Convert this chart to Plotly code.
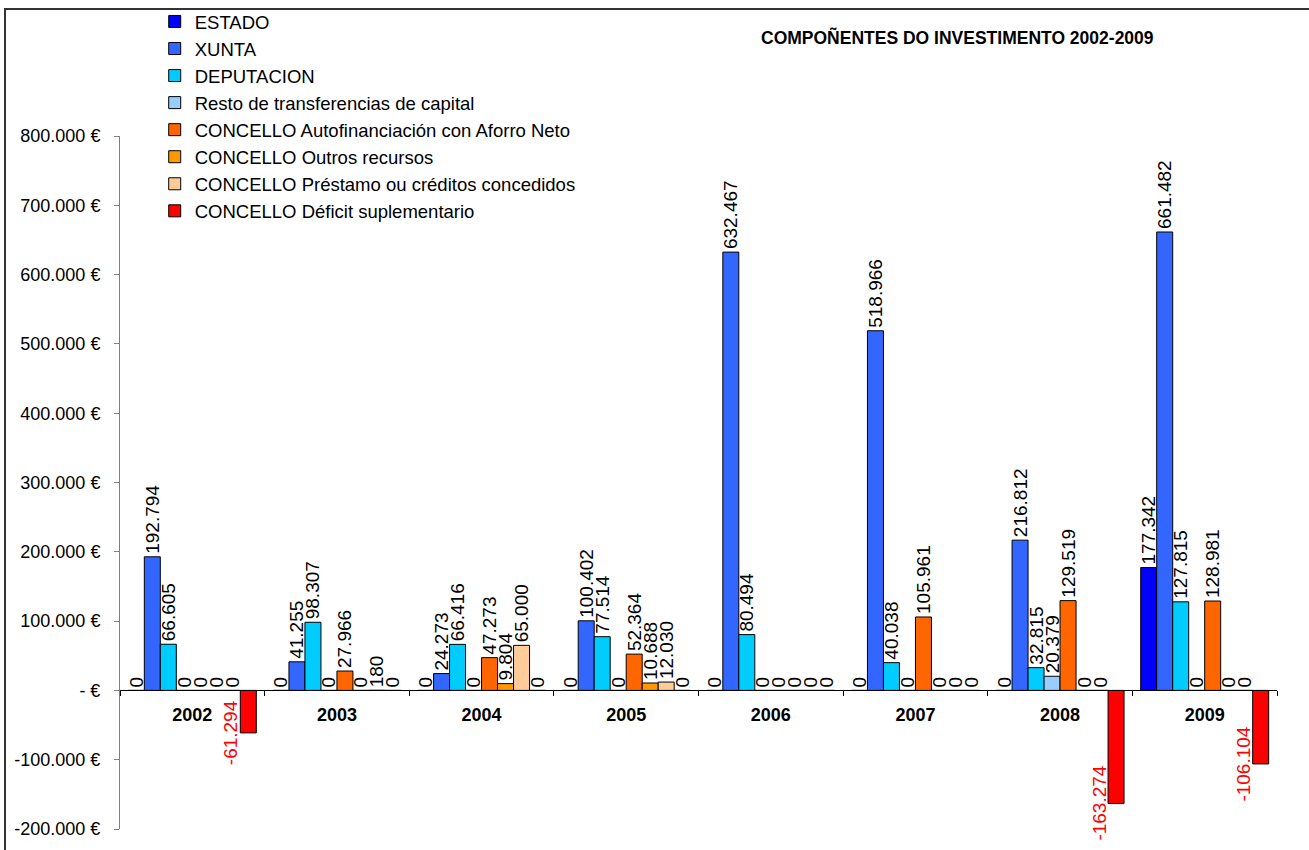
import plotly.graph_objects as go

years = ["2002", "2003", "2004", "2005", "2006", "2007", "2008", "2009"]

series_names = [
    "ESTADO",
    "XUNTA",
    "DEPUTACION",
    "Resto de transferencias de capital",
    "CONCELLO Autofinanciación con Aforro Neto",
    "CONCELLO Outros recursos",
    "CONCELLO Préstamo ou créditos concedidos",
    "CONCELLO Déficit suplementario",
]

estado = [0, 0, 0, 0, 0, 0, 0, 177342]
xunta = [192794, 41255, 24273, 100402, 632467, 518966, 216812, 661482]
deputacion = [66605, 98307, 66416, 77514, 80494, 40038, 32815, 127815]
resto = [0, 0, 0, 0, 0, 0, 20379, 0]
autofinanciacion = [0, 27966, 47273, 52364, 0, 105961, 129519, 128981]
outros = [0, 0, 9804, 10688, 0, 0, 0, 0]
prestamo = [0, 180, 65000, 12030, 0, 0, 0, 0]
deficit = [-61294, 0, 0, 0, 0, 0, -163274, -106104]

colors = ["#0000FF", "#3366FF", "#00CCFF", "#99CCFF",
          "#FF6600", "#FF9900", "#FFCC99", "#FF0000"]

y_tickvals = [800000, 700000, 600000, 500000, 400000, 300000, 200000, 100000, 0, -100000, -200000]
y_ticktext = ["800.000 €", "700.000 €", "600.000 €", "500.000 €", "400.000 €", "300.000 €",
              "200.000 €", "100.000 €", "- €", "-100.000 €", "-200.000 €"]

title_text = "COMPOÑENTES DO INVESTIMENTO 2002-2009"

FONT = "Liberation Sans, Arial, sans-serif"


def fmt(v):
    return f"{v:,}".replace(",", ".")


all_series = [estado, xunta, deputacion, resto, autofinanciacion, outros, prestamo, deficit]

fig = go.Figure()
for i, (name, vals, col) in enumerate(zip(series_names, all_series, colors)):
    if i == len(all_series) - 1:
        text = [fmt(v) if v >= 0 else "" for v in vals]
    else:
        text = [fmt(v) for v in vals]
    fig.add_trace(go.Bar(
        x=years, y=vals, name=name,
        marker=dict(color=col, line=dict(color="#000000", width=1)),
        text=text, textposition="outside", textangle=-90,
        textfont=dict(family=FONT, size=19, color="#000000"),
        constraintext="none", cliponaxis=False,
    ))

# red labels for negative deficit values (x given as category index)
for idx, v in enumerate(deficit):
    if v < 0:
        fig.add_annotation(
            x=idx, y=v, xref="x", yref="y", text=fmt(v), showarrow=False,
            textangle=-90, xshift=39, yanchor="middle", xanchor="center",
            font=dict(family=FONT, size=19, color="#FF0000"),
        )

fig.add_annotation(
    x=0.7235, y=1.142, xref="paper", yref="paper", text="<b>" + title_text + "</b>",
    showarrow=False, xanchor="center", yanchor="middle",
    font=dict(family=FONT, size=17.5, color="#000000"),
)

# outer frame
fig.add_shape(type="rect", xref="paper", yref="paper",
              x0=-0.0994, x1=1.5, y0=-0.5, y1=1.1833,
              line=dict(color="#333333", width=2), fillcolor="rgba(0,0,0,0)", layer="below")

fig.update_layout(
    width=1309, height=850,
    margin=dict(l=120, r=32, t=136, b=21, autoexpand=False),
    paper_bgcolor="#FFFFFF", plot_bgcolor="#FFFFFF",
    barmode="group", bargap=0.115, bargroupgap=0,
    separators=",.",
    showlegend=True,
    legend=dict(
        x=0.03, y=1.192, xanchor="left", yanchor="top",
        font=dict(family=FONT, size=18.5, color="#000000"),
        bgcolor="rgba(0,0,0,0)", traceorder="normal", tracegroupgap=0,
    ),
    font=dict(family=FONT, color="#000000"),
    xaxis=dict(
        type="category", categoryorder="array", categoryarray=years,
        range=[-0.5, len(years) - 0.5], autorange=False,
        anchor="free", position=0.2,
        showline=True, linecolor="#000000", linewidth=1,
        ticks="outside", ticklen=5, tickcolor="#000000", tickson="boundaries",
        tickfont=dict(family=FONT, size=18, color="#000000", weight="bold"),
        ticklabelstandoff=8,
        showgrid=False, zeroline=False,
    ),
    yaxis=dict(
        range=[-200000, 800000], tickvals=y_tickvals, ticktext=y_ticktext,
        showline=True, linecolor="#808080", linewidth=1,
        ticks="outside", ticklen=5, tickcolor="#808080",
        tickfont=dict(family=FONT, size=18, color="#000000"),
        ticklabelstandoff=10,
        showgrid=False, zeroline=False,
    ),
)

fig.write_html("out.html")
